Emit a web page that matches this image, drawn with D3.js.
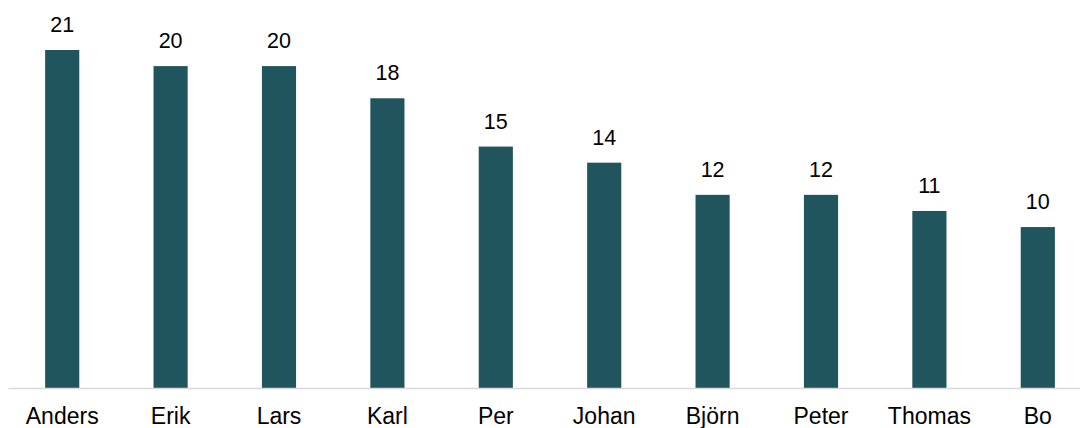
<!DOCTYPE html>
<html>
<head>
<meta charset="utf-8">
<style>
  body { margin: 0; padding: 0; background: #fff; }
  text { font-family: "Liberation Sans", Arial, sans-serif; fill: #000; }
</style>
</head>
<body>
<div id="chart"></div>
<script src="https://d3js.org/d3.v7.min.js"></script>
<script>
// chart data
var names = ["Anders", "Erik", "Lars", "Karl", "Per", "Johan", "Björn", "Peter", "Thomas", "Bo"];
var counts = [21, 20, 20, 18, 15, 14, 12, 12, 11, 10];

var width = 1080, height = 428;
var baseY = 388;

var svg = d3.select("#chart").append("svg")
    .attr("width", width)
    .attr("height", height);

var x = d3.scaleBand()
    .domain(names)
    .range([8, 1092])
    .paddingInner(0.685)
    .paddingOuter(0.3425);

var y = d3.scaleLinear()
    .domain([0, 21])
    .range([baseY, 50]);

// bars
svg.selectAll("rect.bar")
    .data(names)
    .enter().append("rect")
    .attr("class", "bar")
    .attr("x", function(d) { return x(d); })
    .attr("y", function(d, i) { return y(counts[i]); })
    .attr("width", x.bandwidth())
    .attr("height", function(d, i) { return baseY - y(counts[i]); })
    .attr("fill", "#21555D");

// value labels
svg.selectAll("text.val")
    .data(names)
    .enter().append("text")
    .attr("class", "val")
    .attr("x", function(d) { return x(d) + x.bandwidth() / 2; })
    .attr("y", function(d, i) { return y(counts[i]) - 18; })
    .attr("text-anchor", "middle")
    .style("font-size", "21.5px")
    .text(function(d, i) { return counts[i]; });

// x axis
var xAxis = d3.axisBottom(x).tickSize(0).tickPadding(20);
var gx = svg.append("g")
    .attr("transform", "translate(0," + baseY + ")")
    .call(xAxis);
gx.select(".domain").attr("stroke", "#d9d9d9").attr("stroke-width", 1.5);
gx.selectAll("text").style("font-size", "23px").attr("fill", "#000");
</script>
</body>
</html>
